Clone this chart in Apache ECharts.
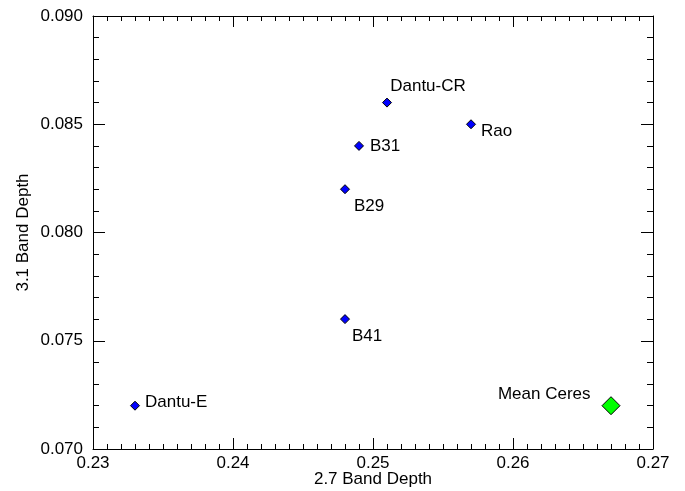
<!DOCTYPE html>
<html>
<head>
<meta charset="utf-8">
<script src="https://cdn.jsdelivr.net/npm/echarts@6/dist/echarts.min.js"></script>
<style>
  html, body { margin: 0; padding: 0; background: #fff; }
  #chart { width: 685px; height: 491px; }
</style>
</head>
<body>
<div id="chart"></div>
<script>
// sample names and band depths
const names = ['Dantu-E', 'B41', 'B29', 'B31', 'Dantu-CR', 'Rao'];
const depth27 = [0.233, 0.248, 0.248, 0.249, 0.251, 0.257];
const depth31 = [0.072, 0.076, 0.082, 0.084, 0.086, 0.085];
const ceresName = 'Mean Ceres';
const ceres27 = 0.267;
const ceres31 = 0.072;

// where each label sits relative to its point
const labelLayout = {
  'Dantu-E':  { position: 'right', offset: [0, -3] },
  'B41':      { position: 'bottom', offset: [22, -1] },
  'B29':      { position: 'bottom', offset: [24, -1] },
  'B31':      { position: 'right', offset: [1, 0] },
  'Dantu-CR': { position: 'top', offset: [41, 2] },
  'Rao':      { position: 'right', offset: [0, 7] }
};

const font = 'Liberation Sans, Arial, Helvetica, sans-serif';
const black = '#000';

var chart = echarts.init(document.getElementById('chart'), null, { renderer: 'canvas' });

const baseX = {
  type: 'value', min: 0.23, max: 0.27, interval: 0.01,
  axisLine: { show: true, onZero: false, lineStyle: { color: black, width: 1 } },
  axisTick: { show: true, inside: true, length: 11, lineStyle: { color: black } },
  minorTick: { show: true, splitNumber: 10, length: 5, lineStyle: { color: black } },
  splitLine: { show: false }
};
const baseY = {
  type: 'value', min: 0.07, max: 0.09, interval: 0.005,
  axisLine: { show: true, onZero: false, lineStyle: { color: black, width: 1 } },
  axisTick: { show: true, inside: true, length: 12, lineStyle: { color: black } },
  minorTick: { show: true, splitNumber: 5, length: 6, lineStyle: { color: black } },
  splitLine: { show: false }
};

var option = {
  backgroundColor: '#fff',
  animation: false,
  grid: { left: 93, right: 32, top: 16, bottom: 42, containLabel: false, outerBoundsMode: 'none' },
  xAxis: [
    Object.assign({}, baseX, {
      position: 'bottom',
      name: '2.7 Band Depth', nameLocation: 'middle', nameGap: 22, nameMoveOverlap: false,
      nameTextStyle: { color: black, fontSize: 17, fontFamily: font },
      axisLabel: { color: black, fontSize: 17, fontFamily: font, margin: 6,
        formatter: v => v.toFixed(2) }
    }),
    Object.assign({}, baseX, { position: 'top', axisLabel: { show: false } })
  ],
  yAxis: [
    Object.assign({}, baseY, {
      position: 'left',
      name: '3.1 Band Depth', nameLocation: 'middle', nameGap: 61, nameMoveOverlap: false,
      nameTextStyle: { color: black, fontSize: 17, fontFamily: font },
      axisLabel: { color: black, fontSize: 17, fontFamily: font, margin: 10,
        formatter: v => v.toFixed(3) }
    }),
    Object.assign({}, baseY, { position: 'right', axisLabel: { show: false } })
  ],
  series: [
    {
      name: 'samples',
      type: 'scatter',
      xAxisIndex: 0, yAxisIndex: 0,
      symbol: 'diamond',
      symbolSize: 9,
      itemStyle: { color: '#0000ff', borderColor: black, borderWidth: 1, opacity: 1 },
      label: {
        show: true, color: black, fontSize: 17, fontFamily: font,
        formatter: p => p.name
      },
      data: names.map((n, i) => ({
        name: n,
        value: [depth27[i], depth31[i]],
        label: labelLayout[n]
      }))
    },
    {
      name: ceresName,
      type: 'scatter',
      xAxisIndex: 0, yAxisIndex: 0,
      symbol: 'diamond',
      symbolSize: 18,
      itemStyle: { color: '#00ff00', borderColor: black, borderWidth: 1, opacity: 1 },
      label: {
        show: true, position: 'left', offset: [-6, -11],
        color: black, fontSize: 17, fontFamily: font,
        formatter: p => p.name
      },
      data: [{ name: ceresName, value: [ceres27, ceres31] }]
    }
  ]
};

chart.setOption(option);
</script>
</body>
</html>
